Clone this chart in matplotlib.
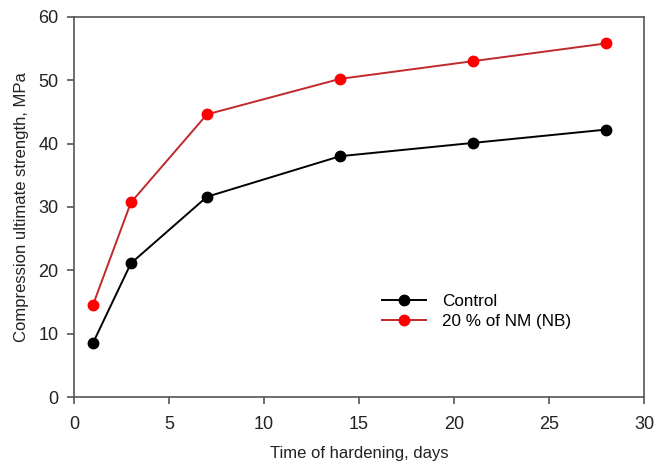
import matplotlib.pyplot as plt

plt.rcParams['font.family'] = ['Liberation Sans', 'DejaVu Sans']

days = [1, 3, 7, 14, 21, 28]
control = [8.5, 21.1, 31.6, 38.0, 40.1, 42.2]
nb = [14.5, 30.7, 44.6, 50.2, 53.0, 55.8]

fig = plt.figure(figsize=(6.54, 4.66), dpi=100)
ax = fig.add_axes([0.113, 0.148, 0.872, 0.816])

ax.plot(days, control, color='black', lw=1.4, marker='o', ms=7.5,
        mfc='black', mec='black', label='Control')
ax.plot(days, nb, color='#c0282a', lw=1.4, marker='o', ms=7.5,
        mfc='#ff0000', mec='#ff0000', label='20 % of NM (NB)')

ax.set_xlim(0, 30)
ax.set_ylim(0, 60)
ax.set_xticks(range(0, 31, 5))
ax.set_yticks(range(0, 61, 10))
ax.tick_params(top=False, right=False, direction='out', length=5,
               width=1.2, colors='#555555', labelcolor='#222222', labelsize=13)
ax.tick_params(axis='x', pad=9)
ax.tick_params(axis='y', pad=6)
for s in ax.spines.values():
    s.set_color('#555555')
    s.set_linewidth(1.2)

ax.set_xlabel('Time of hardening, days', fontsize=12, color='#222222', labelpad=9)
ax.set_ylabel('Compression ultimate strength, MPa', fontsize=12, color='#222222', labelpad=7)

ax.legend(loc='center left', bbox_to_anchor=(0.54, 0.224), frameon=False,
          fontsize=12.3, handlelength=2.6, handletextpad=0.9, labelspacing=0.3,
          borderpad=0, borderaxespad=0)

fig.savefig('out.png', dpi=100)
